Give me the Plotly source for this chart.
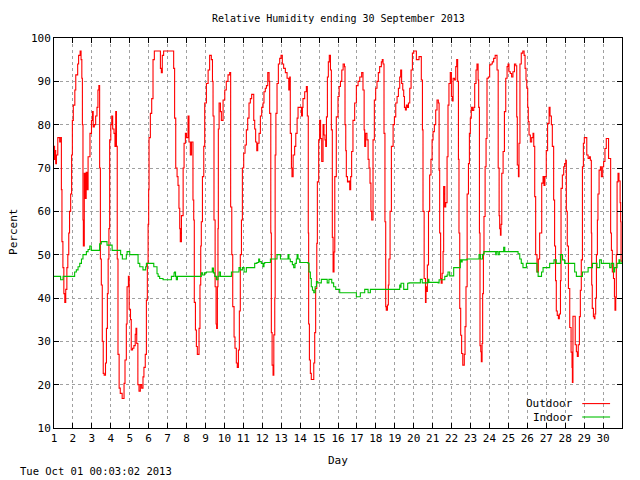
import plotly.graph_objects as go

# ---- data (day of month as decimal, relative humidity %) ----
day_out = [
    1.00, 1.03, 1.06, 1.09, 1.13, 1.20, 1.30, 1.36, 1.39, 1.42, 1.47, 1.52, 1.57, 1.62, 1.68, 1.73, 1.78, 1.82, 1.88, 1.93,
    1.97, 2.02, 2.10, 2.15, 2.25, 2.30, 2.38, 2.43, 2.47, 2.50, 2.53, 2.55, 2.60, 2.65, 2.70, 2.75, 2.80, 2.90, 2.98, 3.03,
    3.07, 3.13, 3.20, 3.27, 3.32, 3.37, 3.41, 3.45, 3.50, 3.55, 3.60, 3.65, 3.72, 3.77, 3.82, 3.86, 3.90, 3.94, 4.00, 4.05,
    4.10, 4.17, 4.22, 4.26, 4.30, 4.34, 4.38, 4.44, 4.50, 4.60, 4.70, 4.75, 4.82, 4.86, 4.93, 4.97, 5.04, 5.08, 5.15, 5.22,
    5.29, 5.33, 5.37, 5.43, 5.49, 5.56, 5.63, 5.70, 5.75, 5.82, 5.88, 5.93, 5.97, 6.00, 6.02, 6.09, 6.16, 6.23, 6.30, 6.58,
    6.62, 6.67, 6.72, 6.79, 7.29, 7.32, 7.37, 7.43, 7.50, 7.55, 7.60, 7.64, 7.67, 7.73, 7.82, 7.87, 7.94, 8.00, 8.08, 8.13,
    8.20, 8.26, 8.34, 8.38, 8.41, 8.47, 8.52, 8.57, 8.66, 8.71, 8.75, 8.78, 8.84, 8.91, 8.96, 9.05, 9.14, 9.22, 9.31, 9.37,
    9.40, 9.45, 9.51, 9.56, 9.59, 9.63, 9.66, 9.68, 9.72, 9.79, 9.84, 9.93, 10.02, 10.10, 10.19, 10.28, 10.33, 10.39, 10.44, 10.51,
    10.56, 10.63, 10.68, 10.74, 10.79, 10.84, 10.90, 10.95, 11.02, 11.09, 11.16, 11.23, 11.30, 11.37, 11.44, 11.51, 11.55, 11.60, 11.65, 11.71,
    11.76, 11.83, 11.90, 11.97, 12.04, 12.09, 12.16, 12.22, 12.29, 12.36, 12.39, 12.45, 12.48, 12.52, 12.57, 12.61, 12.66, 12.68, 12.72, 12.78,
    12.85, 12.92, 12.99, 13.06, 13.13, 13.22, 13.31, 13.40, 13.45, 13.48, 13.54, 13.57, 13.63, 13.71, 13.77, 13.84, 13.89, 14.01, 14.07, 14.12,
    14.15, 14.24, 14.33, 14.38, 14.43, 14.45, 14.49, 14.54, 14.59, 14.66, 14.72, 14.77, 14.82, 14.88, 14.91, 14.98, 15.03, 15.08, 15.14, 15.21,
    15.26, 15.31, 15.35, 15.39, 15.44, 15.49, 15.54, 15.60, 15.65, 15.70, 15.74, 15.79, 15.83, 15.91, 16.00, 16.06, 16.13, 16.20, 16.27, 16.34,
    16.37, 16.41, 16.44, 16.50, 16.57, 16.62, 16.67, 16.72, 16.79, 16.88, 16.97, 17.06, 17.15, 17.25, 17.32, 17.38, 17.41, 17.46, 17.53, 17.59,
    17.64, 17.69, 17.74, 17.78, 17.85, 17.92, 17.99, 18.06, 18.13, 18.20, 18.29, 18.34, 18.38, 18.43, 18.48, 18.52, 18.55, 18.61, 18.66, 18.69,
    18.75, 18.82, 18.91, 18.98, 19.05, 19.12, 19.19, 19.26, 19.31, 19.36, 19.42, 19.47, 19.51, 19.56, 19.61, 19.67, 19.72, 19.79, 19.86, 19.93,
    20.00, 20.09, 20.14, 20.23, 20.28, 20.35, 20.40, 20.46, 20.49, 20.55, 20.62, 20.65, 20.68, 20.72, 20.78, 20.84, 20.91, 20.97, 21.02, 21.09,
    21.16, 21.23, 21.30, 21.34, 21.37, 21.42, 21.45, 21.50, 21.55, 21.58, 21.64, 21.69, 21.76, 21.81, 21.86, 21.93, 21.99, 22.04, 22.08, 22.15,
    22.22, 22.27, 22.32, 22.36, 22.39, 22.43, 22.48, 22.53, 22.59, 22.64, 22.67, 22.71, 22.76, 22.82, 22.89, 22.94, 22.99, 23.04, 23.10, 23.17,
    23.22, 23.29, 23.34, 23.40, 23.43, 23.47, 23.50, 23.54, 23.57, 23.61, 23.64, 23.68, 23.71, 23.77, 23.82, 23.87, 23.94, 24.01, 24.08, 24.15,
    24.22, 24.30, 24.37, 24.40, 24.46, 24.51, 24.54, 24.58, 24.61, 24.65, 24.72, 24.79, 24.86, 24.93, 24.98, 25.03, 25.10, 25.17, 25.24, 25.32,
    25.39, 25.44, 25.47, 25.53, 25.56, 25.61, 25.68, 25.76, 25.83, 25.88, 25.93, 25.97, 26.02, 26.05, 26.09, 26.16, 26.23, 26.30, 26.34, 26.39,
    26.44, 26.51, 26.58, 26.65, 26.76, 26.83, 26.88, 26.93, 27.00, 27.07, 27.15, 27.20, 27.27, 27.32, 27.39, 27.44, 27.49, 27.53, 27.58, 27.64,
    27.69, 27.75, 27.78, 27.85, 27.92, 27.97, 28.03, 28.06, 28.11, 28.17, 28.24, 28.31, 28.36, 28.38, 28.41, 28.48, 28.53, 28.59, 28.64, 28.69,
    28.75, 28.80, 28.85, 28.91, 28.96, 29.01, 29.10, 29.14, 29.21, 29.28, 29.33, 29.38, 29.40, 29.43, 29.49, 29.54, 29.57, 29.61, 29.65, 29.70,
    29.73, 29.79, 29.86, 29.91, 29.98, 30.03, 30.10, 30.17, 30.24, 30.29, 30.35, 30.40, 30.44, 30.49, 30.55, 30.60, 30.63, 30.67, 30.70, 30.74,
    30.79, 30.84, 30.90, 30.93, 30.95, 31.00,
]
rh_out = [
    75, 72, 74, 71, 73, 77, 76, 77, 65, 53, 47, 41, 39, 42, 47, 50, 55, 60, 64, 73,
    81, 84.5, 88, 91.5, 94, 96, 97, 95, 90.7, 80, 58, 52, 68.8, 63, 69, 65, 72.6, 78, 81, 83,
    79.5, 80, 82, 84, 88, 89, 70, 49, 43, 30, 22.6, 22.2, 25, 33, 41, 49, 56, 76.5, 80, 82,
    79, 78, 75, 83, 75, 49, 27, 19.2, 18, 16.8, 20.3, 25.7, 34, 42.6, 45, 37.4, 35, 28, 28.4, 29,
    31.6, 33, 29.5, 20, 18.5, 20, 19.2, 21.8, 24, 27, 39.5, 48, 57, 65, 77, 82.6, 86, 95, 97, 97,
    93, 92, 96, 97, 97, 93, 81.5, 70, 68, 66, 60.7, 56, 53, 59, 70, 75.7, 78, 77, 82, 76,
    73, 76, 62.6, 58, 39, 32.6, 28.8, 27, 33, 43, 52, 57.6, 68, 75, 85, 89.5, 92.6, 96, 95, 90,
    82, 58, 42.6, 34, 33, 42.6, 56, 79, 85, 83, 81, 85.7, 88, 90, 91.5, 92, 61, 50, 38, 31,
    28.4, 25, 24, 28, 37, 50, 58, 70, 73.4, 75.3, 78.8, 81.5, 85, 86, 87, 87, 81, 79, 76, 74,
    75.7, 78, 82, 84, 85, 87.6, 88.4, 89, 92, 90, 82.6, 55, 32, 24.5, 22.2, 31.5, 40, 73, 82.6, 89.5,
    94, 95.3, 96, 94, 93, 92, 90.7, 88, 91, 78, 70, 68, 73, 75, 78, 81.5, 84, 84, 82, 84,
    86, 87.6, 88.8, 82, 55, 34, 25.7, 22.6, 21.2, 21.2, 25, 32, 42.2, 52.6, 66.8, 76.5, 81, 76.8, 71.5, 80,
    77.6, 76.5, 75, 81.8, 91, 94.5, 96, 92.6, 78.8, 54, 46, 50.6, 68, 81.8, 86.5, 88.8, 90, 92.6, 94, 93.4,
    80, 74, 68, 66.8, 67, 65, 68, 73.8, 81, 85, 89, 90, 91, 92, 88, 78.8, 75, 78, 76.5, 72,
    70, 66.5, 60, 58, 76.5, 85.7, 88.4, 90, 92, 93.4, 94.5, 95, 94, 78, 57.6, 38, 37.2, 38.4, 43, 49,
    60, 75, 80, 81.8, 85, 86.5, 88.4, 91, 92.6, 89.5, 88, 86.5, 84, 83.4, 84.5, 84, 85, 88.4, 92.6, 96.5,
    97, 97, 95, 95, 95.7, 95.7, 90.3, 78.8, 60, 44.5, 39, 42.6, 41.5, 47.6, 60, 68.4, 72, 76.5, 78.4, 80,
    83.4, 85.7, 85, 69.5, 55, 44.5, 43.4, 45.7, 50.7, 65.7, 61, 62, 72.6, 84.5, 89.5, 92, 86.5, 85.5, 90.7, 90.3,
    93.4, 95, 90, 72, 55, 37.6, 31.4, 27.2, 24.5, 24.5, 27, 33.4, 42.6, 64, 71, 78, 81.5, 84, 83.3, 84,
    89.5, 92.6, 94, 90.3, 84, 55, 29, 27.6, 25.3, 29.5, 41, 50.3, 58.8, 70.3, 76.8, 90.7, 91, 93.8, 94, 94.5,
    95.3, 96, 96, 92.6, 70, 59, 56, 54.5, 57, 68.8, 73.8, 83, 90.7, 93.4, 94, 92.2, 91.8, 91, 92.2, 94,
    93.6, 81.8, 70.7, 68, 75.7, 94, 96.5, 97, 96, 93, 90.3, 88.4, 84, 80.7, 77.6, 76, 77, 78, 75, 63.4,
    50, 46, 49, 55, 66.5, 68, 66, 68, 74, 80.3, 84, 82, 80, 75, 62.6, 52, 44, 37, 36, 35.2,
    36.3, 44, 65.3, 68.4, 70.3, 71, 71.8, 60, 52, 42.2, 33.2, 27.5, 24, 20.5, 35.8, 35.8, 29.2, 27.6, 26.5, 29.2,
    35.7, 41.8, 48.8, 70.3, 75.7, 77, 77, 73, 72.2, 72.6, 71.8, 55, 43, 37.6, 35.7, 35.2, 36.3, 40, 50, 58,
    64, 69.5, 70.3, 68, 70.3, 71.5, 74.5, 76.8, 76.8, 72.2, 72.2, 55, 51, 46, 44.5, 40.3, 37.2, 40, 50, 66.8,
    68.8, 67, 62, 57.6, 48.5, 48.5,
]

day_in = [
    1.00, 1.35, 1.48, 2.09, 2.18, 2.27, 2.36, 2.45, 2.53, 2.71, 2.80, 2.89, 2.97, 3.41, 3.50, 3.80, 4.07, 4.52, 4.61, 4.82,
    4.86, 5.00, 5.44, 5.53, 5.70, 5.84, 5.88, 6.27, 6.44, 6.50, 6.58, 6.76, 7.20, 7.34, 7.37, 7.42, 7.46, 7.52, 8.78, 8.85,
    8.95, 9.05, 9.36, 9.42, 9.49, 9.58, 9.66, 9.72, 9.79, 10.37, 10.77, 10.84, 10.95, 11.04, 11.16, 11.60, 11.72, 11.81, 11.86, 11.95,
    12.04, 12.09, 12.13, 12.43, 12.78, 12.89, 12.96, 13.36, 13.41, 13.48, 13.59, 13.66, 13.73, 13.80, 13.84, 13.89, 13.98, 14.42, 14.47, 14.54,
    14.59, 14.65, 14.72, 14.79, 14.86, 14.93, 15.12, 15.43, 15.52, 15.67, 15.77, 15.88, 16.09, 16.97, 17.18, 17.41, 17.59, 17.71, 19.26, 19.29,
    19.33, 19.47, 19.68, 19.75, 20.35, 20.45, 20.75, 20.80, 21.29, 21.34, 21.64, 21.76, 21.81, 21.90, 22.11, 22.46, 22.51, 22.56, 22.81, 23.45,
    23.52, 23.63, 23.71, 24.33, 24.36, 24.45, 24.52, 24.75, 24.81, 25.51, 25.60, 25.68, 25.77, 25.95, 26.51, 26.57, 26.75, 26.83, 27.18, 27.41,
    27.53, 27.75, 27.86, 27.97, 28.50, 28.59, 28.91, 29.21, 29.44, 29.68, 29.82, 29.91, 30.35, 30.43, 30.56, 30.61, 30.74, 30.84, 30.89, 31.00,
]
rh_in = [
    45, 44.2, 45, 46, 46.5, 47.2, 48, 49, 50, 50.7, 51.2, 52, 51, 52.5, 53, 52.2, 51, 50, 49, 50,
    50.7, 50, 48, 47.2, 46.5, 47.2, 48, 47.2, 45.6, 45, 44.5, 44.2, 45, 45.8, 46, 45, 44.2, 45, 45.8, 45.3,
    45.8, 46, 46.9, 45.8, 45, 44.2, 45, 46, 45, 46, 47, 46.5, 47, 46, 47, 48, 48.2, 49, 48.4, 48,
    47.2, 48, 48.2, 49, 50, 50, 49, 50, 49, 48.4, 47.7, 47, 48, 49, 50, 49, 48.2, 48, 46, 44.5,
    42.6, 41.8, 41.2, 42.6, 43.8, 43.5, 44.3, 43.5, 44.3, 43.5, 42.6, 42, 41.2, 40.3, 41.2, 42, 41.2, 42, 43, 42.5,
    43.4, 42, 43.4, 43.5, 44.3, 43.5, 44.3, 43.6, 43.5, 44.2, 45, 45.3, 46, 45.1, 47, 48.8, 48.3, 48.8, 49, 50,
    49, 50, 50.7, 50, 50.7, 50, 50.7, 51.7, 50.7, 50.2, 49, 48, 47, 48, 46, 45, 46, 47, 48, 48.8,
    48, 50, 48.8, 48, 46, 45, 46, 47, 48, 47, 48.8, 48, 47, 48, 46, 47, 48, 48.8, 48, 48.4,
]

x_ticks = list(range(1, 31))
y_ticks = list(range(10, 101, 10))

FONT = "DejaVu Sans Mono"
RED = "#ff0000"
GREEN = "#00c000"

fig = go.Figure()
fig.add_trace(go.Scatter(x=day_out, y=rh_out, mode="lines", name="Outdoor",
                         line=dict(color=RED, width=1.1, shape="hv")))
fig.add_trace(go.Scatter(x=day_in, y=rh_in, mode="lines", name="Indoor",
                         line=dict(color=GREEN, width=1.1, shape="hv")))

axis_common = dict(
    showline=True, linecolor="black", linewidth=1, mirror="allticks",
    ticks="inside", ticklen=5, tickcolor="black", tickwidth=1,
    showgrid=True, gridcolor="#a0a0a0", griddash="dot", gridwidth=1,
    zeroline=False, tickfont=dict(family=FONT, size=11, color="black"),
)

fig.update_xaxes(range=[1, 31], tickvals=x_ticks, ticktext=[str(t) for t in x_ticks], **axis_common)
fig.update_yaxes(range=[10, 100], tickvals=y_ticks, ticktext=[str(t) for t in y_ticks], **axis_common)

annotations = [
    dict(text="Relative Humidity ending 30 September 2013", x=0.5, y=1.051, xref="paper", yref="paper",
         showarrow=False, font=dict(family=FONT, size=10, color="black"), xanchor="center", yanchor="middle"),
    dict(text="Day", x=0.5, y=-0.083, xref="paper", yref="paper",
         showarrow=False, font=dict(family=FONT, size=11, color="black"), xanchor="center", yanchor="middle"),
    dict(text="Percent", x=-0.071, y=0.502, xref="paper", yref="paper", textangle=-90,
         showarrow=False, font=dict(family=FONT, size=11, color="black"), xanchor="center", yanchor="middle"),
    dict(text="Tue Oct 01 00:03:02 2013", x=-0.064, y=-0.111, xref="paper", yref="paper",
         showarrow=False, font=dict(family=FONT, size=10.5, color="black"), xanchor="left", yanchor="middle"),
    dict(text="Outdoor", x=0.918, y=0.0626, xref="paper", yref="paper",
         showarrow=False, font=dict(family=FONT, size=11, color="black"), xanchor="right", yanchor="middle"),
    dict(text="Indoor", x=0.918, y=0.0282, xref="paper", yref="paper",
         showarrow=False, font=dict(family=FONT, size=11, color="black"), xanchor="right", yanchor="middle"),
]
shapes = [
    dict(type="line", xref="paper", yref="paper", x0=0.930, x1=0.979, y0=0.0626, y1=0.0626,
         line=dict(color=RED, width=1.1)),
    dict(type="line", xref="paper", yref="paper", x0=0.930, x1=0.979, y0=0.0282, y1=0.0282,
         line=dict(color=GREEN, width=1.1)),
]

# the page body adds an 8px offset, so the figure is 632x472 to land the plot
# area where the reference has it within the 640x480 window
fig.update_layout(
    width=632, height=472,
    margin=dict(l=46, r=18, t=30, b=52, pad=0),
    paper_bgcolor="white", plot_bgcolor="white",
    showlegend=False,
    annotations=annotations, shapes=shapes,
    font=dict(family=FONT, size=11, color="black"),
)

fig.write_html("out.html")
